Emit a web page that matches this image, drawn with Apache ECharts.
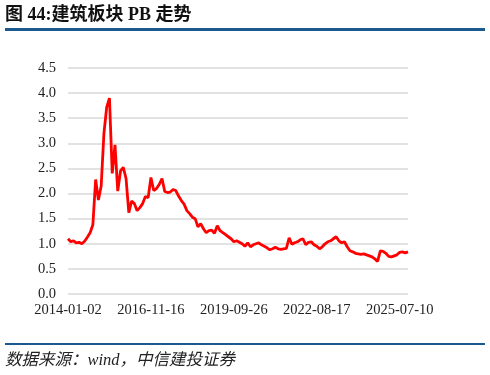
<!DOCTYPE html>
<html>
<head>
<meta charset="utf-8">
<script src="https://cdn.jsdelivr.net/npm/echarts@6/dist/echarts.min.js"></script>
<style>
html,body{margin:0;padding:0;background:#fff;}
#chart{width:490px;height:375px;}
</style>
</head>
<body>
<div id="chart"></div>
<script>
// Tick labels shown on the category axis (every 30th point)
var tickLabels = ['2014-01-02', '2016-11-16', '2019-09-26', '2022-08-17', '2025-07-10'];
var labelStep = 30;

var pbValues = [
  1.10, 1.04, 1.06, 1.02, 1.03, 1.00, 1.05, 1.13, 1.22, 1.38,
  2.28, 1.87, 2.15, 3.20, 3.72, 3.90, 2.40, 2.97, 2.05, 2.45,
  2.52, 2.30, 1.62, 1.85, 1.80, 1.66, 1.72, 1.80, 1.94, 1.92,
  2.32, 2.06, 2.10, 2.18, 2.30, 2.04, 2.02, 2.03, 2.08, 2.06,
  1.95, 1.86, 1.79, 1.66, 1.60, 1.53, 1.50, 1.34, 1.40, 1.30,
  1.22, 1.26, 1.27, 1.21, 1.36, 1.26, 1.22, 1.18, 1.14, 1.10,
  1.04, 1.06, 1.03, 1.00, 0.95, 1.02, 0.94, 0.98, 1.00, 1.02,
  0.98, 0.95, 0.92, 0.88, 0.90, 0.93, 0.90, 0.89, 0.90, 0.91,
  1.12, 0.99, 1.02, 1.04, 1.08, 1.10, 0.98, 1.03, 1.04, 0.98,
  0.95, 0.90, 0.94, 1.00, 1.04, 1.06, 1.10, 1.14, 1.06, 1.02,
  1.04, 0.94, 0.86, 0.84, 0.81, 0.80, 0.79, 0.80, 0.78, 0.76,
  0.74, 0.70, 0.65, 0.86, 0.85, 0.81, 0.75, 0.74, 0.76, 0.78,
  0.83, 0.84, 0.82, 0.84
];

// Category keys (one per sampled point)
var categories = pbValues.map(function (_, i) { return String(i); });

var chart = echarts.init(document.getElementById('chart'), null, {renderer: 'canvas'});
var serif = '"Liberation Serif", "Noto Sans CJK SC", serif';

chart.setOption({
  animation: false,
  backgroundColor: '#ffffff',
  grid: {left: 68, right: 82, top: 68, bottom: 81, containLabel: false},
  xAxis: {
    type: 'category',
    data: categories,
    boundaryGap: false,
    axisLine: {show: false},
    axisTick: {show: false},
    splitLine: {show: false},
    axisLabel: {
      interval: labelStep - 1,
      margin: 9,
      color: '#222',
      fontFamily: serif,
      fontSize: 14.5,
      formatter: function (v) {
        var i = Number(v);
        return (i % labelStep === 0 && tickLabels[i / labelStep]) ? tickLabels[i / labelStep] : '';
      }
    }
  },
  yAxis: {
    type: 'value',
    min: 0,
    max: 4.5,
    interval: 0.5,
    axisLine: {show: false},
    axisTick: {show: false},
    splitLine: {lineStyle: {color: '#d9d9d9', width: 1.5}},
    axisLabel: {
      margin: 12,
      color: '#222',
      fontFamily: serif,
      fontSize: 14.5,
      formatter: function (v) { return v.toFixed(1); }
    }
  },
  series: [{
    type: 'line',
    data: pbValues,
    showSymbol: false,
    symbol: 'none',
    lineStyle: {color: '#ff0000', width: 2.8},
    itemStyle: {color: '#ff0000'}
  }],
  graphic: [
    {type: 'text', left: 5, top: 6,
     style: {text: '图 44:建筑板块 PB 走势', fill: '#111', font: 'bold 18px "Liberation Serif", "Noto Sans CJK SC", serif'}},
    {type: 'rect', shape: {x: 5, y: 28, width: 480, height: 3}, style: {fill: '#1b5a8e'}},
    {type: 'rect', shape: {x: 5, y: 343, width: 480, height: 2}, style: {fill: '#1b5a8e'}},
    {type: 'text', left: 5, top: 352,
     style: {text: '数据来源：wind，中信建投证券', fill: '#222', font: 'italic 16.5px "Liberation Serif", "Noto Sans CJK SC", serif'}}
  ]
});
</script>
</body>
</html>
